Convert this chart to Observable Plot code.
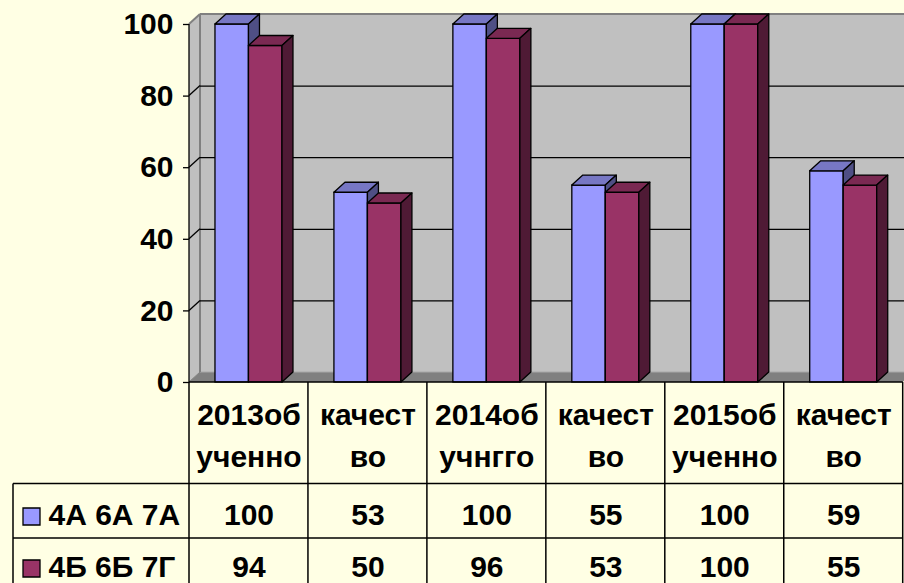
<!DOCTYPE html>
<html><head><meta charset="utf-8">
<script src="https://cdn.jsdelivr.net/npm/d3@7"></script>
<script src="https://cdn.jsdelivr.net/npm/@observablehq/plot@0.6"></script>
<style>
html,body{margin:0;padding:0;background:#FFFFE4;overflow:hidden;}
</style></head><body><div id="chart"></div>
<script>
// ---- data ----
const categories = ["2013об\nученно", "качест\nво", "2014об\nучнгго", "качест\nво", "2015об\nученно", "качест\nво"];
const seriesNames = ["4А 6А 7А", "4Б 6Б 7Г"];
const seriesA = [100, 53, 100, 55, 100, 59];
const seriesB = [94, 50, 96, 53, 100, 55];
const yTicks = [0, 20, 40, 60, 80, 100];
const gridTicks = [20, 40, 60, 80];

// ---- styles / layout ----
const W = 904, H = 583;
const mL = 189, mR = 1.3, mT = 24, mB = 201;
const DX = 11, DY = -10;              // 3D depth offset
const bw = (W - mL - mR) / categories.length;
const barW = 33.5;
const font = "'Liberation Sans', Arial, sans-serif";
const FS = 30;
const series = [
  {name: seriesNames[0], values: seriesA, front: "#9999FF", top: "#7777C4", side: "#4F4F85", inL: bw / 2 - barW, inR: bw / 2},
  {name: seriesNames[1], values: seriesB, front: "#993366", top: "#7A2952", side: "#4F1A35", inL: bw / 2, inR: bw / 2 - barW}
];
const idx = categories.map((_, i) => i);
const rowDy = [133, 185];

function poly(g, pts, fill, stroke, sw) {
  g.append("polygon").attr("points", pts.map(p => p.join(",")).join(" "))
    .attr("fill", fill).attr("stroke", stroke || "none").attr("stroke-width", sw || 1)
    .attr("stroke-linejoin", "round");
}
function line(g, x1, y1, x2, y2, stroke, sw) {
  g.append("line").attr("x1", x1).attr("y1", y1).attr("x2", x2).attr("y2", y2)
    .attr("stroke", stroke).attr("stroke-width", sw || 1);
}

// walls & floor (drawn with the plot's scales)
function walls(index, scales, values, dims) {
  const g = d3.create("svg:g");
  const sy = scales.y;
  const x0 = dims.marginLeft, x1 = dims.width - dims.marginRight;
  const yb = sy(0), yt = sy(100);
  poly(g, [[x0 + DX, yt + DY], [x1 + DX + 20, yt + DY], [x1 + DX + 20, yb + DY], [x0 + DX, yb + DY]], "#C0C0C0");
  poly(g, [[x0, yt], [x0 + DX, yt + DY], [x0 + DX, yb + DY], [x0, yb]], "#C0C0C0");
  poly(g, [[x0, yb], [x1, yb], [x1 + DX, yb + DY], [x0 + DX, yb + DY]], "#808080");
  line(g, x0 + DX, yb + DY, x1 + DX, yb + DY, "#A8A8A8", 1);
  line(g, x0 + DX, yt + DY, W, yt + DY, "#808080", 2);
  line(g, x0 + DX, yt + DY, x0 + DX, yb + DY, "#808080", 2);
  line(g, x0, yt, x0 + DX, yt + DY, "#808080", 2);
  line(g, x0, yb, x0 + DX, yb + DY, "#808080", 1);
  for (const t of gridTicks) line(g, x0, sy(t), x0 + DX, sy(t) + DY, "black", 1.3);
  return g.node();
}

function frontEdges(index, scales, values, dims) {
  const g = d3.create("svg:g");
  const sy = scales.y;
  const x0 = dims.marginLeft, x1 = dims.width - dims.marginRight;
  line(g, x0, sy(100), x0, sy(0), "black", 1.3);
  line(g, x0, sy(0), x1, sy(0), "black", 1.5);
  return g.node();
}

function depthFaces(s) {
  return (index, scales) => {
    const g = d3.create("svg:g");
    const sx = scales.x, sy = scales.y;
    s.values.forEach((v, i) => {
      const xa = sx(i) + s.inL, xb = xa + barW;
      const yv = sy(v), y0 = sy(0);
      poly(g, [[xa, yv], [xb, yv], [xb + DX, yv + DY], [xa + DX, yv + DY]], s.top, "black", 1.3);
      poly(g, [[xb, yv], [xb + DX, yv + DY], [xb + DX, y0 + DY], [xb, y0]], s.side, "black", 1.3);
    });
    return g.node();
  };
}

function tableGrid(index, scales, values, dims) {
  const g = d3.create("svg:g");
  const sx = scales.x, sy = scales.y;
  const y0 = sy(0);
  const right = dims.width - dims.marginRight;
  const r1 = y0 + 101.5, r2 = y0 + 156;
  for (let k = 0; k <= categories.length; k++) {
    const xk = k < categories.length ? sx(k) : sx(k - 1) + bw;
    line(g, xk, y0, xk, H + 5, "black", 1.5);
  }
  line(g, 13, r1, right, r1, "black", 1.5);
  line(g, 13, r2, right, r2, "black", 1.5);
  line(g, 13, r1, 13, H + 5, "black", 1.5);
  return g.node();
}

const textOpts = {fontSize: FS, fontWeight: "bold", fill: "black", fontFamily: font, lineAnchor: "middle"};

const marks = [
  walls,
  Plot.ruleY(gridTicks, {y: d => d, dx: DX, dy: DY, stroke: "black", strokeWidth: 1.3}),
];
for (const s of series) {
  marks.push(Plot.barY(s.values, {x: (d, i) => i, y: d => d, fill: s.front, stroke: "black", strokeWidth: 1.3, insetLeft: s.inL, insetRight: s.inR}));
  marks.push(depthFaces(s));
}
marks.push(frontEdges);
marks.push(Plot.axisY(yTicks, {tickSize: 6, tickPadding: 10, label: null, ...textOpts, stroke: "black", strokeWidth: 1.3}));
marks.push(tableGrid);
marks.push(Plot.text(idx, {x: i => i, text: i => categories[i], frameAnchor: "bottom", dy: 50.5, lineHeight: 1.4, ...textOpts}));
series.forEach((s, k) => {
  marks.push(Plot.text(s.values, {x: (d, i) => i, text: d => String(d), frameAnchor: "bottom", dy: rowDy[k], ...textOpts}));
  marks.push(Plot.text([s.name], {text: d => d, frameAnchor: "bottom-left", dx: 48 - mL, dy: rowDy[k], textAnchor: "start", ...textOpts}));
  marks.push(Plot.dot([s.name], {frameAnchor: "bottom-left", dx: 31 - mL, dy: rowDy[k] + 1, symbol: "square", r: 17 / Math.sqrt(Math.PI), fill: s.front, stroke: "black", strokeWidth: 1.3}));
});

const chart = Plot.plot({
  width: W, height: H,
  marginLeft: mL, marginRight: mR, marginTop: mT, marginBottom: mB,
  x: {domain: idx, padding: 0, round: false, axis: null},
  y: {domain: [0, 100], axis: null},
  style: {background: "#FFFFE4", fontFamily: font, overflow: "visible"},
  marks
});
document.getElementById("chart").appendChild(chart);
</script>
</body></html>
